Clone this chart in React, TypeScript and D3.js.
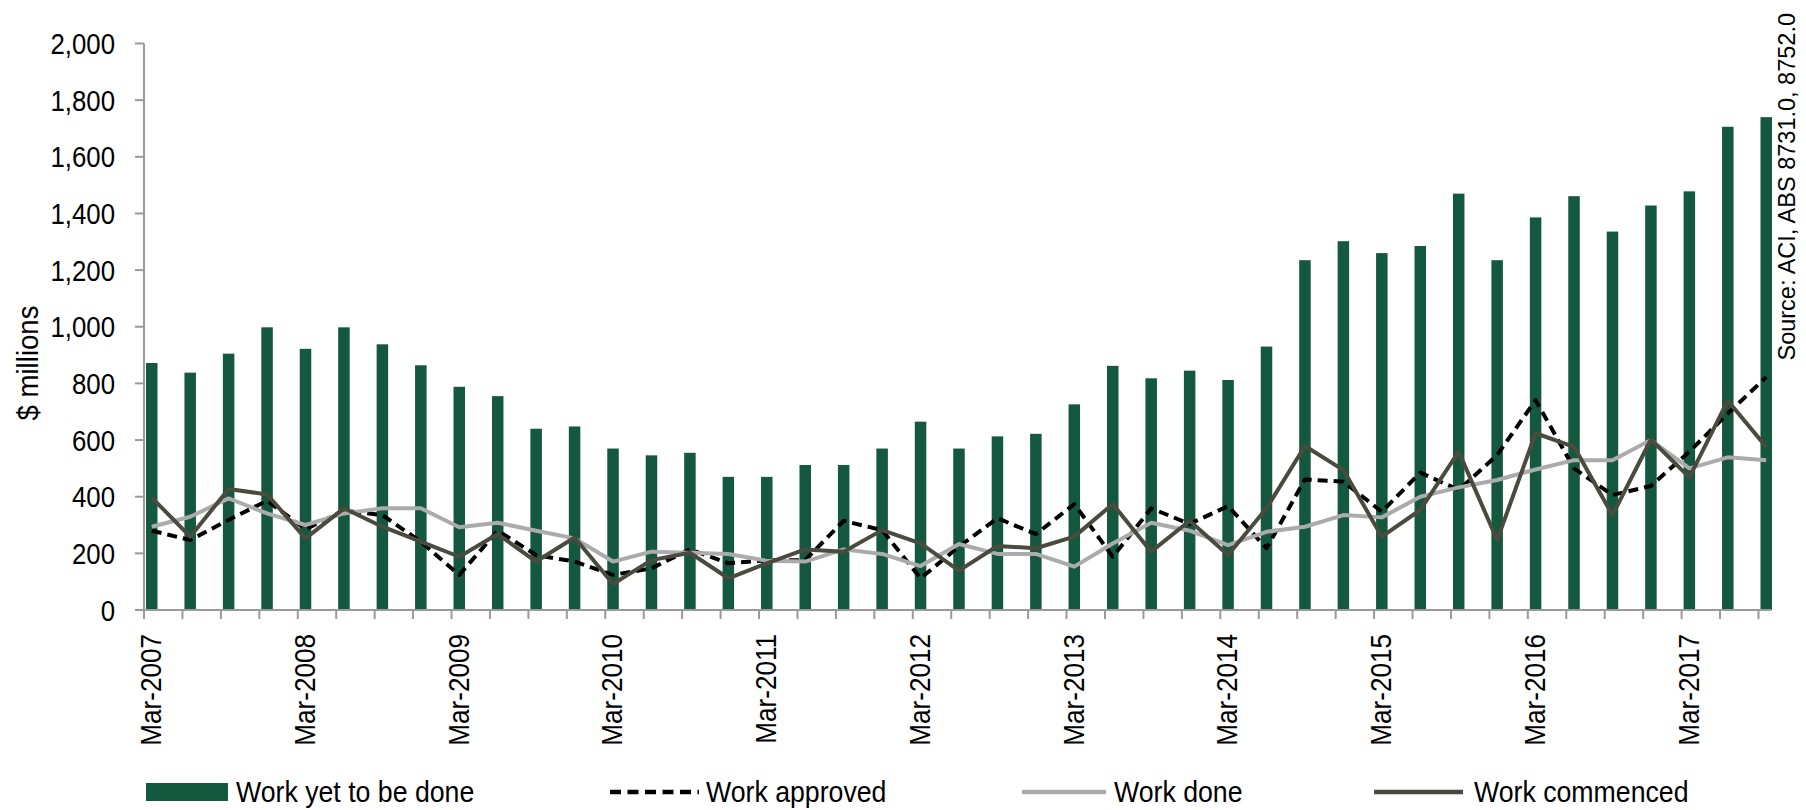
import React from "react";
import * as d3 from "d3";

const quarters = [
  "Mar-2007", "Jun-2007", "Sep-2007", "Dec-2007",
  "Mar-2008", "Jun-2008", "Sep-2008", "Dec-2008",
  "Mar-2009", "Jun-2009", "Sep-2009", "Dec-2009",
  "Mar-2010", "Jun-2010", "Sep-2010", "Dec-2010",
  "Mar-2011", "Jun-2011", "Sep-2011", "Dec-2011",
  "Mar-2012", "Jun-2012", "Sep-2012", "Dec-2012",
  "Mar-2013", "Jun-2013", "Sep-2013", "Dec-2013",
  "Mar-2014", "Jun-2014", "Sep-2014", "Dec-2014",
  "Mar-2015", "Jun-2015", "Sep-2015", "Dec-2015",
  "Mar-2016", "Jun-2016", "Sep-2016", "Dec-2016",
  "Mar-2017", "Jun-2017", "Sep-2017",
];

const xTickLabels = [
  "Mar-2007", "Mar-2008", "Mar-2009", "Mar-2010", "Mar-2011", "Mar-2012",
  "Mar-2013", "Mar-2014", "Mar-2015", "Mar-2016", "Mar-2017",
];

const yTicks = [0, 200, 400, 600, 800, 1000, 1200, 1400, 1600, 1800, 2000];

const workYetToBeDone = [
  872, 838, 905, 998, 922, 998, 938, 864, 788, 755, 640, 648,
  570, 546, 555, 470, 470, 512, 512, 570, 665, 570, 613, 622,
  726, 862, 818, 845, 812, 930, 1235, 1302, 1260, 1285, 1470, 1235,
  1386, 1461, 1336, 1428, 1478, 1706, 1740,
];

const workApproved = [
  280, 247, 318, 386, 285, 351, 335, 241, 124, 280, 194, 171,
  124, 147, 214, 165, 176, 176, 315, 282, 112, 224, 324, 268,
  374, 188, 359, 304, 367, 218, 461, 453, 347, 485, 424, 547,
  741, 500, 406, 438, 559, 694, 822,
];

const workDone = [
  294, 329, 394, 341, 300, 341, 359, 359, 292, 308, 280, 253,
  171, 206, 202, 198, 174, 171, 214, 198, 155, 233, 198, 198,
  153, 235, 308, 280, 229, 276, 294, 335, 327, 400, 433, 459,
  496, 529, 529, 600, 500, 539, 529,
];

const workCommenced = [
  397, 259, 427, 408, 253, 359, 294, 241, 188, 268, 171, 256,
  92, 176, 202, 112, 165, 214, 206, 282, 235, 139, 226, 218,
  259, 374, 206, 315, 194, 359, 579, 494, 259, 353, 559, 247,
  624, 576, 335, 602, 468, 739, 576,
];

const GREEN = "#13583F";
const DARK = "#4A4A3F";
const GRAY = "#ABABAB";
const AXIS = "#9A9A9A";
const FONT = "'Liberation Sans', Arial, sans-serif";

export default function App() {
  const W = 1806;
  const H = 810;
  const x0 = 144;
  const step = 38.44;
  const x = d3
    .scalePoint<string>()
    .domain(quarters)
    .range([x0, x0 + step * (quarters.length - 1)]);
  const y = d3.scaleLinear().domain([0, 2000]).range([610, 43.5]);
  const barOffset = 2;
  const barW = 11.5;
  const cx = (q: string) => (x(q) as number) + barOffset + barW / 2;
  const xEnd = (x(quarters[quarters.length - 1]) as number) + 13;

  const mkLine = (vals: number[]) =>
    d3
      .line<number>()
      .x((_, i) => cx(quarters[i]))
      .y((d) => y(d))(vals) as string;

  const legend = [
    { label: "Work yet to be done", kind: "bar", x: 146, tx: 236 },
    { label: "Work approved", kind: "dash", x: 610, tx: 706 },
    { label: "Work done", kind: "gray", x: 1022, tx: 1114 },
    { label: "Work commenced", kind: "dark", x: 1374, tx: 1474 },
  ];

  return (
    <svg
      width={W}
      height={H}
      style={{ position: "absolute", left: 0, top: 0, background: "#fff" }}
      fontFamily={FONT}
    >
      <rect x={0} y={0} width={W} height={H} fill="#fff" />
      {/* bars */}
      {quarters.map((q, i) => (
        <rect
          key={q}
          x={(x(q) as number) + barOffset}
          y={y(workYetToBeDone[i])}
          width={barW}
          height={y(0) - y(workYetToBeDone[i])}
          fill={GREEN}
        />
      ))}
      {/* lines */}
      <path d={mkLine(workApproved)} fill="none" stroke="#000" strokeWidth={4} strokeDasharray="10,6" strokeLinejoin="round" />
      <path d={mkLine(workDone)} fill="none" stroke={GRAY} strokeWidth={4} strokeLinejoin="round" />
      <path d={mkLine(workCommenced)} fill="none" stroke={DARK} strokeWidth={4} strokeLinejoin="round" />

      {/* y axis */}
      <line x1={x0} x2={x0} y1={y(2000)} y2={y(0)} stroke={AXIS} strokeWidth={2} />
      {yTicks.map((t) => (
        <g key={t}>
          <line x1={x0 - 9} x2={x0} y1={y(t)} y2={y(t)} stroke={AXIS} strokeWidth={2} />
          <text
            transform={`translate(115,${y(t) + 10.5}) scale(0.86,1)`}
            textAnchor="end"
            fontSize={30}
            fill="#000"
          >
            {d3.format(",")(t)}
          </text>
        </g>
      ))}
      {/* x axis */}
      <line x1={x0} x2={xEnd} y1={y(0)} y2={y(0)} stroke={AXIS} strokeWidth={2} />
      {quarters.map((q) => (
        <line key={q} x1={x(q)} x2={x(q)} y1={y(0)} y2={y(0) + 9} stroke={AXIS} strokeWidth={2} />
      ))}
      {xTickLabels.map((l) => (
        <text
          key={l}
          transform={`translate(${(x(l) as number) + 17},634) rotate(-90) scale(0.9,1)`}
          textAnchor="end"
          fontSize={29}
          fill="#000"
        >
          {l}
        </text>
      ))}

      {/* y title */}
      <text transform="translate(38,363) rotate(-90) scale(0.92,1)" textAnchor="middle" fontSize={30} fill="#000">
        $ millions
      </text>

      {/* source */}
      <text transform="translate(1795,13) rotate(-90)" textAnchor="end" fontSize={23.5} fill="#000">
        Source: ACI, ABS 8731.0, 8752.0
      </text>

      {/* legend */}
      {legend.map((d) => (
        <g key={d.label}>
          {d.kind === "bar" && <rect x={d.x} y={783} width={82} height={18} fill={GREEN} />}
          {d.kind === "dash" && (
            <line x1={d.x} x2={d.x + 89} y1={792} y2={792} stroke="#000" strokeWidth={4.5} strokeDasharray="11,6.5" />
          )}
          {d.kind === "gray" && (
            <line x1={d.x} x2={d.x + 84} y1={792} y2={792} stroke={GRAY} strokeWidth={4.5} />
          )}
          {d.kind === "dark" && (
            <line x1={d.x} x2={d.x + 89} y1={792} y2={792} stroke={DARK} strokeWidth={4.5} />
          )}
          <text
            transform={`translate(${d.tx},802) scale(0.89,1)`}
            fontSize={30}
            fill="#000"
          >
            {d.label}
          </text>
        </g>
      ))}
    </svg>
  );
}
